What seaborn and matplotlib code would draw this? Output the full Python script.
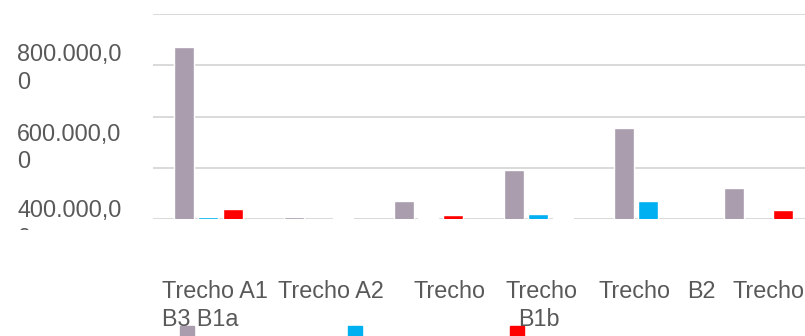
import numpy as np
import pandas as pd
import matplotlib
matplotlib.use("Agg")
import matplotlib.pyplot as plt
from matplotlib.patches import Rectangle
from matplotlib.transforms import Bbox, TransformedBbox
import seaborn as sns

# ---- data -------------------------------------------------------------
categories = ["Trecho A1", "Trecho A2", "Trecho B3", "Trecho B1a", "Trecho B1b", "Trecho B2"]
series_names = ["Série 1", "Série 2", "Série 3"]
serie_1 = [871000, 208000, 270000, 391000, 555000, 321000]
serie_2 = [208000, np.nan, 205000, 220000, 270000, np.nan]
serie_3 = [238000, 203000, 214000, 204000, np.nan, 235000]
colors = ["#AA9DAE", "#00B0F0", "#FF0000"]

y_tick_labels = ["800.000,0\n0", "600.000,0\n0", "400.000,0\n0"]
x_label_lines = [
    [("Trecho A1", 162), ("Trecho A2", 278), ("Trecho", 413), ("Trecho", 505),
     ("Trecho", 598), ("B2", 687), ("Trecho", 732)],
    [("B3 B1a", 162), ("B1b", 518)],
]

df = pd.DataFrame({
    "trecho": categories * 3,
    "serie": [s for s in series_names for _ in categories],
    "valor": serie_1 + serie_2 + serie_3,
})

# ---- figure -----------------------------------------------------------
W, H = 805, 336
sns.set_theme(style="white")
plt.rcParams["font.family"] = ["Liberation Sans", "DejaVu Sans"]
fig = plt.figure(figsize=(W / 100, H / 100), dpi=100)

def fx(px):
    return px / W

def fy(py):
    return 1 - py / H

# plot area: left edge at 153 px, runs past the right border of the canvas
ax = fig.add_axes([fx(153.25), fy(219), (110 * 6) / W, (219 - 14) / H])

sns.barplot(data=df, x="trecho", y="valor", hue="serie", order=categories,
            hue_order=series_names, palette=colors, width=0.67, gap=0.2,
            errorbar=None, legend=False, saturation=1, ax=ax)

ax.set_xlim(-0.5, len(categories) - 0.5)
ax.set_ylim(200000, 1000000)
ax.set_yticks(np.arange(200000, 1000001, 200000))
ax.yaxis.grid(True, color="#D9D9D9", linewidth=1.4)
ax.set_axisbelow(True)
ax.tick_params(left=False, bottom=False, labelleft=False, labelbottom=False)
ax.set_xlabel("")
ax.set_ylabel("")
for sp in ax.spines.values():
    sp.set_visible(False)

text_color = "#595959"
fs = 16.8

# value axis labels (wrapped), clipped just below the baseline
clip = TransformedBbox(Bbox.from_extents(0, fy(230), fx(160), 1), fig.transFigure)
for lab, yc in zip(y_tick_labels, [66, 145.5, 222]):
    first, second = lab.split("\n")
    for s, base in [(first, yc - 5), (second, yc + 23)]:
        t = fig.text(fx(17), fy(base), s, ha="left", va="baseline",
                     fontsize=fs, color=text_color)
        t.set_clip_box(clip)
        t.set_clip_on(True)

# category labels
for line, base in zip(x_label_lines, [298.5, 326]):
    for s, x0 in line:
        fig.text(fx(x0), fy(base), s, ha="left", va="baseline",
                 fontsize=fs, color=text_color)

# legend keys (labels fall below the canvas)
for c, x0 in zip(colors, [180, 348, 510]):
    fig.patches.append(Rectangle((fx(x0), fy(340)), 13.5 / W, 14 / H,
                                 transform=fig.transFigure, color=c,
                                 figure=fig))

fig.savefig("out.png", dpi=100)
